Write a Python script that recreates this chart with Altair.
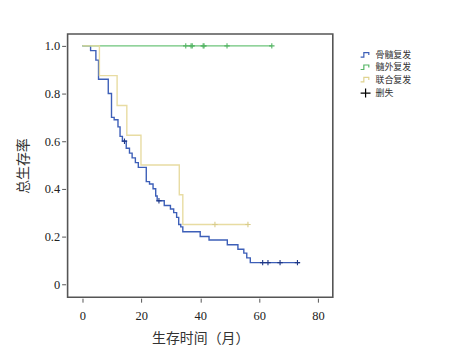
import altair as alt
import pandas as pd

# ---------------- data ----------------
groups = ["骨髓复发", "髓外复发", "联合复发"]
legend_labels = ["骨髓复发", "髓外复发", "联合复发", "删失"]

bm_time = [0, 2.8, 4.6, 5.5, 8.8, 9.9, 10.8, 12.1, 12.8, 13.6, 14.9, 16.0, 16.9,
           18.0, 19.0, 21.7, 22.8, 24.0, 24.9, 25.4, 27.8, 29.9, 31.0, 32.0, 32.7,
           33.4, 34.1, 40.0, 43.0, 49.2, 52.8, 54.8, 55.8, 57.0, 73.8]
bm_surv = [1.0, 0.98, 0.94, 0.86, 0.80, 0.70, 0.69, 0.66, 0.62, 0.60, 0.57, 0.55, 0.53,
           0.51, 0.49, 0.43, 0.42, 0.40, 0.37, 0.35, 0.33, 0.315, 0.30, 0.28, 0.25,
           0.24, 0.22, 0.20, 0.185, 0.165, 0.146, 0.13, 0.11, 0.09, 0.09]
bm_cens_time = [14.3, 26.0, 61.2, 63.0, 67.1, 73.0]
bm_cens_surv = [0.60, 0.35, 0.09, 0.09, 0.09, 0.09]

em_time = [0, 64.3]
em_surv = [1.0, 1.0]
em_cens_time = [35.1, 36.9, 37.3, 41.0, 41.3, 49.1, 64.3]
em_cens_surv = [1.0, 1.0, 1.0, 1.0, 1.0, 1.0, 1.0]

cb_time = [0, 5.8, 11.8, 15.1, 19.9, 32.9, 34.1, 56.4]
cb_surv = [1.0, 0.875, 0.75, 0.625, 0.5, 0.375, 0.25, 0.25]
cb_cens_time = [45.0, 56.2]
cb_cens_surv = [0.25, 0.25]

x_ticks = [0, 20, 40, 60, 80]
y_ticks = [0, 0.2, 0.4, 0.6, 0.8, 1.0]

# ---------------- styling ----------------
line_colors = ["#3d5fb8", "#6cc47a", "#e8dca2"]
cens_colors = ["#1e3787", "#55b565", "#d9cc8a"]
legend_colors = ["#3d5fb8", "#55b565", "#e0d38f", "#000000"]
step_path = "M-1,0.45H-0.35V-0.45H0.65V0.05"
cross_path = "M-1,0H1M0,-0.9V0.9"
legend_shapes = [step_path, step_path, step_path, cross_path]
serif = "Liberation Serif"

series = {
    groups[0]: (bm_time, bm_surv, bm_cens_time, bm_cens_surv),
    groups[1]: (em_time, em_surv, em_cens_time, em_cens_surv),
    groups[2]: (cb_time, cb_surv, cb_cens_time, cb_cens_surv),
}

line_rows, cens_rows = [], []
for g, (t, s, ct, cs) in series.items():
    for a, b in zip(t, s):
        line_rows.append({"group": g, "t": a, "s": b})
    for a, b in zip(ct, cs):
        cens_rows.append({"group": g, "t": a, "s": b})
lines_df = pd.DataFrame(line_rows)
cens_df = pd.DataFrame(cens_rows)
legend_df = pd.DataFrame({"label": legend_labels, "t": [200] * 4, "s": [0.5] * 4})

x_scale = alt.Scale(domain=[-5, 85], nice=False, zero=False)
y_scale = alt.Scale(domain=[-0.055, 1.05], nice=False, zero=False)

x_axis = alt.Axis(values=x_ticks, title="生存时间（月）", grid=False, domain=False,
                  tickSize=4, offset=1, labelPadding=7, titlePadding=10)
y_axis = alt.Axis(values=y_ticks, title="总生存率", grid=False, domain=False,
                  tickSize=4, offset=2, labelPadding=2, titlePadding=14,
                  labelExpr="datum.value == 0 ? '0' : format(datum.value, '.1f')")

layers = []
for i, g in enumerate(groups):
    layers.append(
        alt.Chart(lines_df).transform_filter(alt.datum.group == g)
        .mark_line(interpolate="step-after", strokeWidth=1.4, color=line_colors[i])
        .encode(x=alt.X("t:Q", scale=x_scale, axis=x_axis),
                y=alt.Y("s:Q", scale=y_scale, axis=y_axis),
                order=alt.Order("t:Q"))
    )
for i, g in enumerate(groups):
    layers.append(
        alt.Chart(cens_df).transform_filter(alt.datum.group == g)
        .mark_point(shape="M0,-1V1M-1,0H1", size=30, filled=False,
                    strokeWidth=1.1, color=cens_colors[i], opacity=1)
        .encode(x=alt.X("t:Q", scale=x_scale, axis=x_axis),
                y=alt.Y("s:Q", scale=y_scale, axis=y_axis))
    )

legend_def = alt.Legend(title=None, orient="none", legendX=294, legendY=15,
                        labelFont="Noto Sans CJK SC", labelFontSize=9,
                        labelColor="#333", symbolSize=100,
                        symbolStrokeWidth=1.2, rowPadding=1.5, labelOffset=4)

legend_layer = alt.Chart(legend_df).mark_point(
    clip=True, filled=False, strokeWidth=1.2, size=100, opacity=1
).encode(
    x=alt.X("t:Q", scale=x_scale, axis=x_axis),
    y=alt.Y("s:Q", scale=y_scale, axis=y_axis),
    color=alt.Color("label:N", sort=legend_labels,
                    scale=alt.Scale(domain=legend_labels, range=legend_colors),
                    legend=legend_def),
    shape=alt.Shape("label:N", sort=legend_labels,
                    scale=alt.Scale(domain=legend_labels, range=legend_shapes),
                    legend=legend_def),
)
layers.append(legend_layer)

chart = alt.layer(*layers).properties(
    width=267, height=265,
    autosize=alt.AutoSizeParams(type="none"),
    padding={"left": 60, "top": 25, "right": 120, "bottom": 50},
    background="white",
).configure_view(
    stroke="#555", strokeWidth=1.6
).configure_axis(
    labelFont=serif, labelFontSize=12.5, labelColor="#222",
    titleFont="Noto Sans CJK SC", titleFontSize=14, titleFontWeight="normal",
    titleColor="#333", tickColor="#555", tickWidth=1,
)

chart.save("out.html", embed_options={"renderer": "svg", "actions": False})
